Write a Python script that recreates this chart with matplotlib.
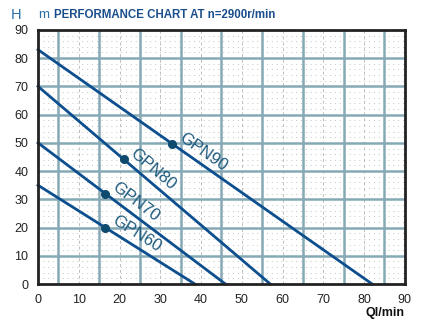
import matplotlib
matplotlib.use("Agg")
import matplotlib.pyplot as plt
import numpy as np

models = ["GPN60", "GPN70", "GPN80", "GPN90"]
shutoff_head = [35, 50, 70, 83]
max_flow = [38.5, 46, 57, 82]
label_flow = [16.5, 16.5, 21, 33]

x_ticks = list(range(0, 91, 10))
y_ticks = list(range(0, 91, 10))

line_color = "#0d4f8e"
text_color = "#1d5a7e"
grid_color = "#86a9b5"

fig = plt.figure(figsize=(4.27, 3.25), dpi=100)
ax = fig.add_axes([0.089, 0.126, 0.859, 0.782])
ax.set_xlim(0, 90)
ax.set_ylim(0, 90)

# minor dotted grid
for y in np.arange(2, 90, 2):
    if y % 10:
        ax.axhline(y, color="#c4c4c4", lw=0.7, ls=(0, (1, 4)), zorder=0)
for x in range(10, 90, 10):
    ax.axvline(x, color="#bdbdbd", lw=0.7, ls=(0, (3, 3)), zorder=0)
# major solid grid
for y in range(10, 90, 10):
    ax.axhline(y, color=grid_color, lw=1.8, zorder=1)
for x in range(5, 90, 10):
    ax.axvline(x, color=grid_color, lw=1.8, zorder=1)

for name, h0, q0, qx in zip(models, shutoff_head, max_flow, label_flow):
    ax.plot([0, q0], [h0, 0], color=line_color, lw=2, zorder=3, clip_on=False)
    hy = h0 * (1 - qx / q0)
    ax.plot([qx], [hy], "o", color="#0e4a6e", ms=5.5, zorder=4)
    p1 = ax.transData.transform((0, h0))
    p2 = ax.transData.transform((q0, 0))
    ang = np.degrees(np.arctan2(p2[1] - p1[1], p2[0] - p1[0]))
    ax.text(qx + 1.0, hy + 0.6, name, rotation=ang, rotation_mode="anchor",
            ha="left", va="bottom", color=text_color, fontsize=12,
            family="Liberation Sans", zorder=5)

ax.set_xticks(x_ticks)
ax.set_yticks(y_ticks)
ax.tick_params(length=0, labelsize=9, colors="#222222", pad=7)
for lab in ax.get_xticklabels() + ax.get_yticklabels():
    lab.set_family("Liberation Sans")
for s in ax.spines.values():
    s.set_color("#222222")
    s.set_linewidth(2)
    s.set_zorder(6)

fig.text(0.026, 0.955, "H", color="#2a6ea8", fontsize=10.5, family="Liberation Sans", va="center")
fig.text(0.09, 0.955, "m", color="#2a6ea8", fontsize=9.5, family="Liberation Sans", va="center")
fig.text(0.126, 0.955, "PERFORMANCE CHART AT n=2900r/min", color="#1a4e8c",
         fontsize=8.3, fontweight="bold", family="Liberation Sans", va="center")
fig.text(0.948, 0.038, "Ql/min", color="#111111", fontsize=9, fontweight="bold",
         family="Liberation Sans", ha="right", va="center")

fig.savefig("out.png", dpi=100)
